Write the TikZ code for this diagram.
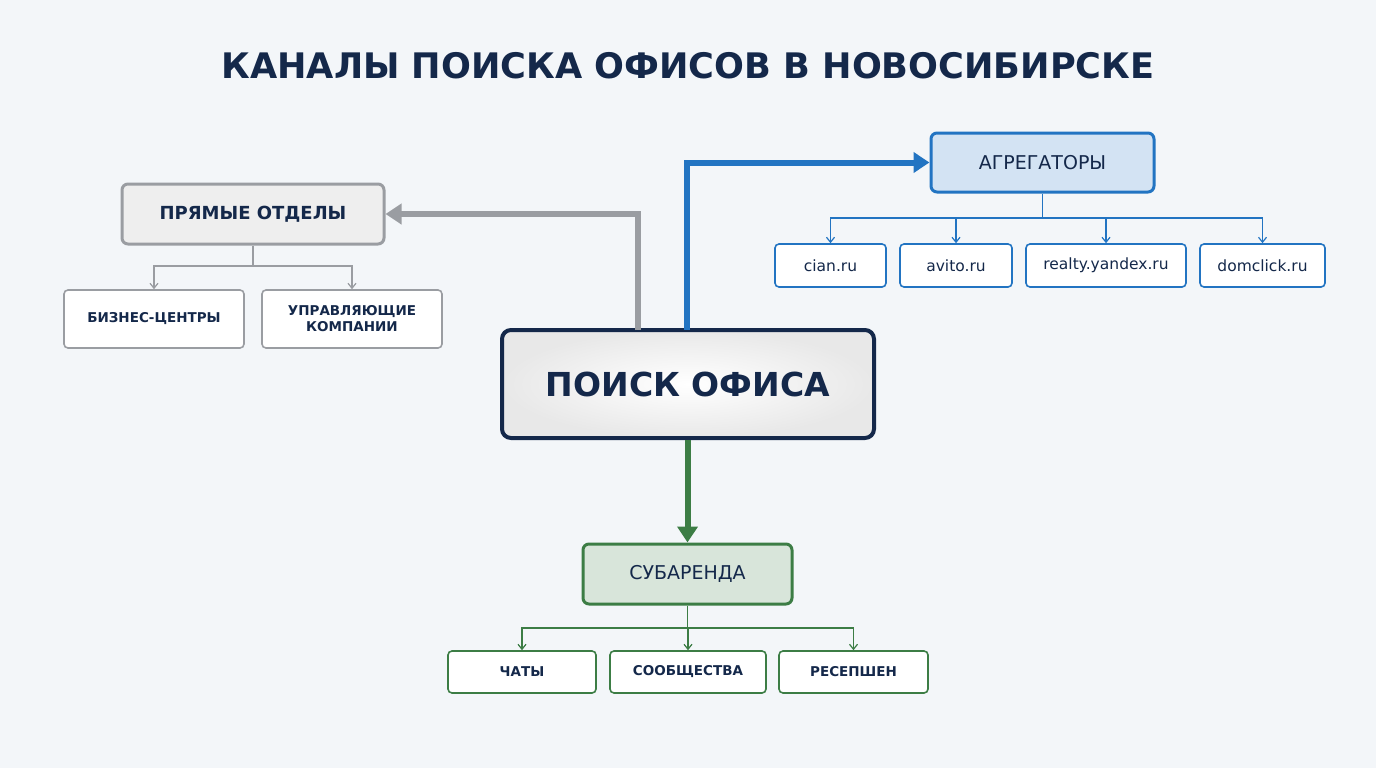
\documentclass[tikz,border=0pt]{standalone}
\usepackage{fontspec}
\setmainfont{DejaVu Sans}
\usetikzlibrary{arrows.meta}
\definecolor{navy}{HTML}{14284A}
\definecolor{gr}{HTML}{9A9DA2}
\definecolor{bl}{HTML}{2274C2}
\definecolor{gn}{HTML}{3C7D45}
\definecolor{bg}{HTML}{F3F6F9}
\begin{document}
\begin{tikzpicture}[x=1pt,y=-1pt,
 box/.style={rounded corners=4pt,align=center,inner sep=0pt},
 leaf/.style={box,draw,line width=1.6pt,fill=white,font=\bfseries\fontsize{13.5}{16}\selectfont\color{navy}},
 dom/.style={box,draw,line width=1.6pt,fill=white,font=\fontsize{15.5}{18}\selectfont\color{navy}},
 thin/.style={line width=1.2pt,-{Straight Barb[length=5pt,width=8pt]}},
 big/.style={line width=6pt,-{Triangle[length=16pt,width=20pt]}}]
\useasboundingbox (0,0) rectangle (1376,768);
\fill[bg] (0,0) rectangle (1376,768);
\node[inner sep=0pt] (t) at (688,66) {\resizebox{933pt}{!}{\bfseries\fontsize{30}{34}\selectfont\color{navy}КАНАЛЫ ПОИСКА ОФИСОВ В НОВОСИБИРСКЕ}};
% center
\node[box,draw=navy,line width=4pt,inner color=white,outer color=gray!18,minimum width=372pt,minimum height=108pt,rounded corners=9pt,font=\bfseries\fontsize{33}{38}\selectfont\color{navy}] (c) at (688,384) {ПОИСК ОФИСА};
% direct
\node[box,draw=gr,line width=3pt,fill=gray!13,minimum width=262pt,minimum height=60pt,rounded corners=6pt,font=\bfseries\fontsize{18}{22}\selectfont\color{navy}] (d) at (253,214) {ПРЯМЫЕ ОТДЕЛЫ};
\node[leaf,draw=gr,minimum width=180pt,minimum height=58pt] (d1) at (154,319) {БИЗНЕС-ЦЕНТРЫ};
\node[leaf,draw=gr,minimum width=180pt,minimum height=58pt] (d2) at (352,319) {УПРАВЛЯЮЩИЕ\\КОМПАНИИ};
% aggregators
\node[box,draw=bl,line width=3pt,fill=bl!20,minimum width=223pt,minimum height=59pt,rounded corners=6pt,font=\fontsize{19}{22}\selectfont\color{navy}] (a) at (1042.5,162.5) {АГРЕГАТОРЫ};
\node[dom,draw=bl,minimum width=111pt,minimum height=43pt] (a1) at (830.5,265.5) {cian.ru};
\node[dom,draw=bl,minimum width=112pt,minimum height=43pt] (a2) at (956,265.5) {avito.ru};
\node[dom,draw=bl,minimum width=160pt,minimum height=43pt] (a3) at (1106,265.5) {realty.yandex.ru};
\node[dom,draw=bl,minimum width=125pt,minimum height=43pt] (a4) at (1262.5,265.5) {domclick.ru};
% sublease
\node[box,draw=gn,line width=3pt,fill=gn!20,minimum width=209pt,minimum height=60pt,rounded corners=6pt,font=\fontsize{19}{22}\selectfont\color{navy}] (s) at (687.5,574) {СУБАРЕНДА};
\node[leaf,draw=gn,minimum width=148pt,minimum height=42pt] (s1) at (522,672) {ЧАТЫ};
\node[leaf,draw=gn,minimum width=156pt,minimum height=42pt] (s2) at (688,672) {СООБЩЕСТВА};
\node[leaf,draw=gn,minimum width=149pt,minimum height=42pt] (s3) at (853.5,672) {РЕСЕПШЕН};
% big arrows
\draw[big,gr] (638,330) |- (d.east);
\draw[big,bl] (687,330) |- (a.west);
\draw[big,gn] (c.south -| s.north) -- (s.north);
% thin
\coordinate (dj) at (253,266);
\draw[gr,line width=1.2pt] (d.south) -- (dj);
\draw[gr,thin] (dj) -| (d1.north);
\draw[gr,thin] (dj) -| (d2.north);
\coordinate (aj) at (1042.5,218);
\draw[bl,line width=1.2pt] (a.south) -- (aj);
\foreach \n in {a1,a2,a3,a4} \draw[bl,thin] (aj) -| (\n.north);
\coordinate (sj) at (687.5,628);
\draw[gn,line width=1.2pt] (s.south) -- (sj);
\foreach \n in {s1,s2,s3} \draw[gn,thin] (sj) -| (\n.north);
\end{tikzpicture}
\end{document}
